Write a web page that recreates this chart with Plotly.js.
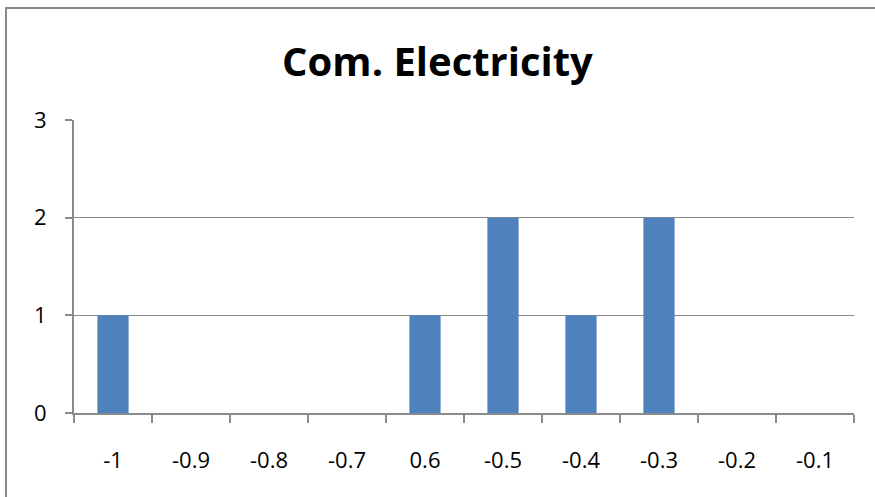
<!DOCTYPE html>
<html>
<head>
<meta charset="utf-8">
<script src="https://cdn.plot.ly/plotly-3.0.1.min.js"></script>
<style>
  html, body { margin: 0; padding: 0; background: #fff; overflow: hidden; }
  #chart { width: 875px; height: 497px; position: absolute; left: 0; top: 0; }
  #frame { position: absolute; left: 5px; top: 7px; width: 900px; height: 600px;
           border: 2px solid #8a8a8a; box-sizing: border-box; pointer-events: none; }
</style>
</head>
<body>
<div id="chart"></div>
<div id="frame"></div>
<script>
// Correlation bins and how many items fall into each
const categories = ["-1", "-0.9", "-0.8", "-0.7", "0.6", "-0.5", "-0.4", "-0.3", "-0.2", "-0.1"];
const counts = [1, 0, 0, 0, 1, 2, 1, 2, 0, 0];
const yTicks = [0, 1, 2, 3];

const font = "Open Sans, Noto Sans, sans-serif";

Plotly.newPlot("chart", [{
  type: "bar",
  x: categories,
  y: counts,
  marker: { color: "#4f81bd" },
  hoverinfo: "x+y"
}], {
  width: 875,
  height: 497,
  margin: { l: 74, r: 21, t: 120, b: 84 },
  paper_bgcolor: "#ffffff",
  plot_bgcolor: "#ffffff",
  bargap: 0.6,
  showlegend: false,
  title: {
    text: "<b>Com. Electricity</b>",
    x: 0.5,
    xanchor: "center",
    y: 0.875,
    yanchor: "middle",
    font: { family: font, size: 40, color: "#000" }
  },
  xaxis: {
    type: "category",
    tickson: "boundaries",
    ticks: "outside",
    ticklen: 8,
    tickwidth: 2,
    tickcolor: "#8a8a8a",
    showline: true,
    linecolor: "#8a8a8a",
    linewidth: 2,
    showgrid: false,
    tickfont: { family: font, size: 22, color: "#000" },
    ticklabelstandoff: 27
  },
  yaxis: {
    range: [0, 3],
    tickvals: yTicks,
    ticks: "outside",
    ticklen: 7,
    tickwidth: 2,
    tickcolor: "#8a8a8a",
    showline: true,
    linecolor: "#8a8a8a",
    linewidth: 2,
    showgrid: true,
    gridcolor: "#8a8a8a",
    gridwidth: 1.5,
    zeroline: false,
    tickfont: { family: font, size: 22, color: "#000" },
    ticklabelstandoff: 14
  }
}, { staticPlot: true });
</script>
</body>
</html>
